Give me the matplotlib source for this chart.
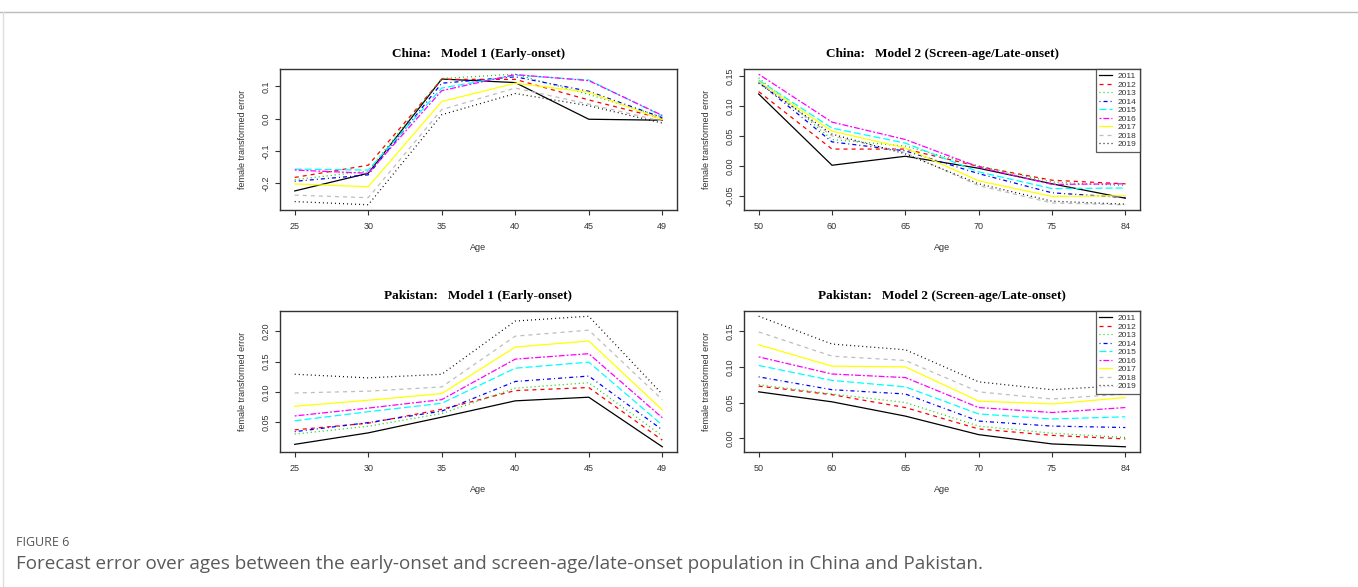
import numpy as np
import matplotlib
matplotlib.use("Agg")
import matplotlib.pyplot as plt
from matplotlib.ticker import MultipleLocator, FormatStrFormatter
from matplotlib.lines import Line2D

plt.rcParams['font.family'] = ['Liberation Sans', 'DejaVu Sans']
plt.rcParams['axes.unicode_minus'] = False
plt.rcParams['lines.scale_dashes'] = False

years = ['2011', '2012', '2013', '2014', '2015', '2016', '2017', '2018', '2019']
early_ages = ['25', '30', '35', '40', '45', '49']
late_ages = ['50', '60', '65', '70', '75', '84']

china_m1 = [
    [-0.225, -0.170, 0.123, 0.112, -0.002, -0.005],
    [-0.183, -0.145, 0.122, 0.122, 0.058, 0.000],
    [-0.190, -0.163, 0.125, 0.138, 0.075, 0.005],
    [-0.195, -0.175, 0.110, 0.130, 0.085, 0.003],
    [-0.157, -0.160, 0.095, 0.135, 0.120, 0.008],
    [-0.160, -0.170, 0.087, 0.137, 0.118, 0.010],
    [-0.203, -0.212, 0.053, 0.110, 0.082, -0.003],
    [-0.238, -0.246, 0.028, 0.095, 0.045, -0.008],
    [-0.258, -0.268, 0.012, 0.078, 0.040, -0.014],
]
china_m2 = [
    [0.120, 0.001, 0.016, -0.004, -0.030, -0.054],
    [0.124, 0.028, 0.028, -0.001, -0.024, -0.030],
    [0.147, 0.044, 0.033, 0.000, -0.027, -0.033],
    [0.140, 0.040, 0.025, -0.013, -0.045, -0.053],
    [0.143, 0.063, 0.038, -0.010, -0.038, -0.037],
    [0.153, 0.073, 0.044, -0.002, -0.031, -0.030],
    [0.141, 0.058, 0.030, -0.025, -0.051, -0.050],
    [0.140, 0.050, 0.022, -0.033, -0.062, -0.065],
    [0.138, 0.053, 0.020, -0.030, -0.059, -0.064],
]
pak_m1 = [
    [0.013, 0.032, 0.058, 0.085, 0.091, 0.009],
    [0.037, 0.048, 0.071, 0.102, 0.107, 0.020],
    [0.030, 0.043, 0.064, 0.106, 0.115, 0.027],
    [0.034, 0.049, 0.068, 0.117, 0.126, 0.037],
    [0.052, 0.067, 0.081, 0.139, 0.149, 0.045],
    [0.060, 0.073, 0.087, 0.154, 0.163, 0.057],
    [0.076, 0.086, 0.097, 0.174, 0.184, 0.070],
    [0.098, 0.101, 0.108, 0.192, 0.202, 0.087],
    [0.129, 0.123, 0.129, 0.217, 0.225, 0.096],
]
pak_m2 = [
    [0.065, 0.051, 0.031, 0.005, -0.008, -0.012],
    [0.073, 0.061, 0.043, 0.013, 0.004, -0.001],
    [0.075, 0.062, 0.050, 0.017, 0.007, 0.001],
    [0.086, 0.068, 0.062, 0.024, 0.017, 0.015],
    [0.102, 0.081, 0.072, 0.034, 0.027, 0.030],
    [0.114, 0.090, 0.085, 0.043, 0.036, 0.043],
    [0.131, 0.101, 0.100, 0.052, 0.048, 0.057],
    [0.149, 0.115, 0.109, 0.065, 0.055, 0.062],
    [0.171, 0.132, 0.124, 0.079, 0.068, 0.074],
]

# R palette 1:9 and lty 1:9 (lty recycles after 6)
colors = ['black', '#FF0000', '#00CD00', '#0000FF', '#00FFFF', '#FF00FF',
          '#FFFF00', '#BEBEBE', 'black']
lty = ['-', (0, (2.9, 2.9)), (0, (0.7, 2.2)), (0, (0.7, 2.2, 2.9, 2.2)),
       (0, (5.0, 2.2)), (0, (1.4, 1.4, 4.3, 1.4))]
styles = [lty[i % 6] for i in range(9)]

fig = plt.figure(figsize=(13.58, 5.87), dpi=100)

W, H = 1358, 587


def add_panel(x0, y0, x1, y1):
    return fig.add_axes([x0 / W, 1 - y1 / H, (x1 - x0) / W, (y1 - y0) / H])


def draw(ax, data, ages, title, step, fmt, legend=False):
    x = np.arange(1, len(ages) + 1)
    for i, yr in enumerate(years):
        ax.plot(x, data[i], color=colors[i], linestyle=styles[i], lw=0.9, label=yr)
    ax.margins(x=0.04, y=0.04)
    ax.set_xticks(x)
    ax.set_xticklabels(ages)
    ax.yaxis.set_major_locator(MultipleLocator(step))
    ax.yaxis.set_major_formatter(FormatStrFormatter(fmt))
    ax.tick_params(axis='both', direction='out', length=3.6, width=0.8,
                   labelsize=6.5, color='#333333', labelcolor='#333333')
    ax.tick_params(axis='x', pad=5.2)
    ax.tick_params(axis='y', pad=3.2)
    for lab in ax.get_yticklabels():
        lab.set_rotation(90)
        lab.set_va('center')
    for s in ax.spines.values():
        s.set_color('#333333')
        s.set_linewidth(1.0)
    ax.set_title(title, family='Liberation Serif', fontweight='bold',
                 fontsize=9.5, pad=9)
    ax.set_xlabel('Age', fontsize=6.5, color='#333333')
    ax.xaxis.set_label_coords(0.5, -0.235)
    ax.set_ylabel('female transformed error', fontsize=6.5, color='#333333')
    ax.yaxis.set_label_coords(-0.083, 0.5)
    if legend:
        leg = ax.legend(loc='upper right', fontsize=6, frameon=True,
                        fancybox=False, borderaxespad=0, handlelength=1.5,
                        handletextpad=0.7, labelspacing=0.08, borderpad=0.4)
        leg.get_frame().set_edgecolor('#333333')
        leg.get_frame().set_linewidth(0.9)
        for t in leg.get_texts():
            t.set_color('#333333')


ax1 = add_panel(280, 69, 677, 210)
ax2 = add_panel(744, 69, 1140, 210)
ax3 = add_panel(280, 311, 677, 452)
ax4 = add_panel(744, 311, 1140, 452)

draw(ax1, china_m1, early_ages, 'China:   Model 1 (Early-onset)', 0.1, '%.1f')
draw(ax2, china_m2, late_ages, 'China:   Model 2 (Screen-age/Late-onset)', 0.05, '%.2f', legend=True)
draw(ax3, pak_m1, early_ages, 'Pakistan:   Model 1 (Early-onset)', 0.05, '%.2f')
draw(ax4, pak_m2, late_ages, 'Pakistan:   Model 2 (Screen-age/Late-onset)', 0.05, '%.2f', legend=True)

# page rules and caption
fig.add_artist(Line2D([0, 1], [1 - 12 / H, 1 - 12 / H], color='#bbbbbb', lw=1))
fig.add_artist(Line2D([3 / W, 3 / W], [0, 1 - 12 / H], color='#dddddd', lw=1))
fig.text(16 / W, 1 - 543 / H, 'FIGURE 6', family='Open Sans', fontsize=9,
         color='#555555', va='center')
fig.text(16 / W, 1 - 564 / H,
         'Forecast error over ages between the early-onset and screen-age/late-onset '
         'population in China and Pakistan.',
         family='Open Sans', fontsize=13.6, color='#5a5a5a', va='center')

fig.savefig('out.png', dpi=100)
